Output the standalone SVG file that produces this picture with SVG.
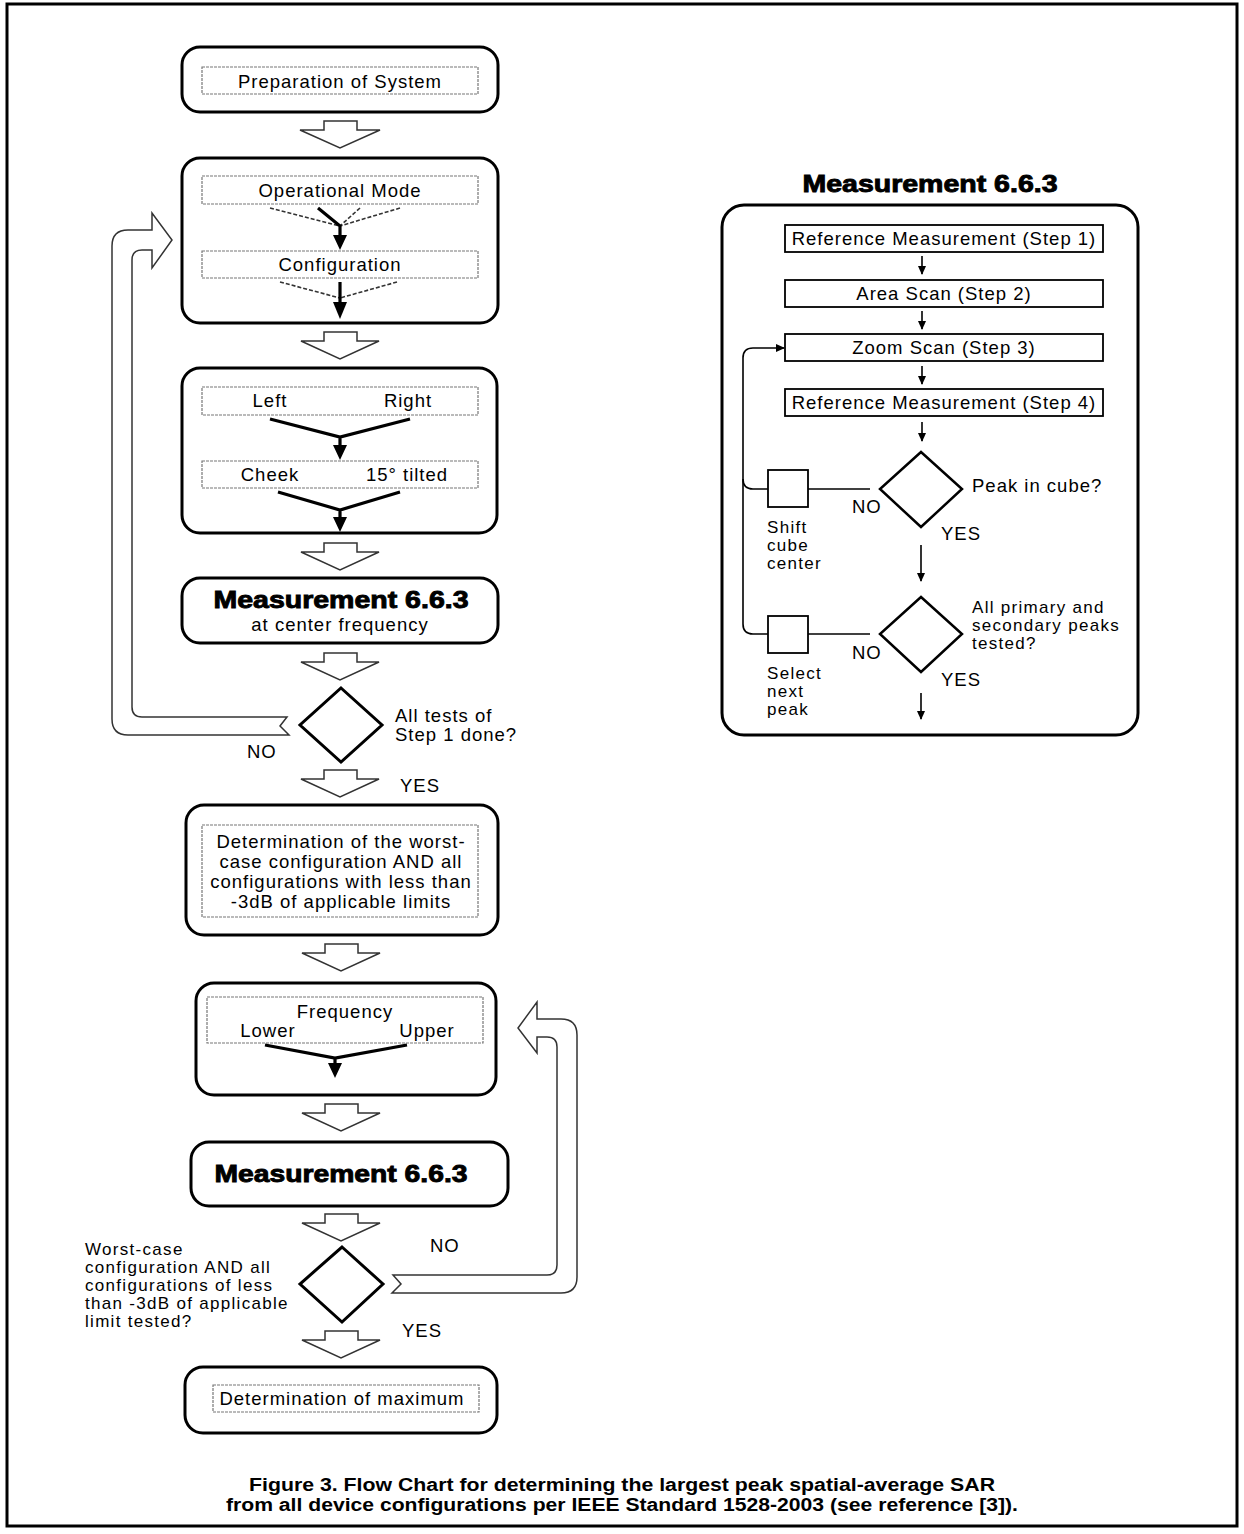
<svg xmlns="http://www.w3.org/2000/svg" width="1244" height="1534" viewBox="0 0 1244 1534">
<style>
.t{font-family:"Liberation Sans",Arial,sans-serif;font-size:18.5px;letter-spacing:1px;fill:#000}
.s{font-size:17px;letter-spacing:1.3px}
.m{text-anchor:middle}
.big{font-family:"Liberation Sans",Arial,sans-serif;font-weight:bold;font-size:24px;fill:#000;stroke:#000;stroke-width:0.9;text-anchor:middle}
.cap{font-family:"Liberation Sans",Arial,sans-serif;font-weight:bold;font-size:18px;fill:#000;text-anchor:middle}
.box{fill:#fff;stroke:#000;stroke-width:3}
.dr{fill:none;stroke:#777;stroke-width:1.2;stroke-dasharray:3 1}
.sr{fill:#fff;stroke:#000;stroke-width:1.8}
.ha{fill:#fff;stroke:#333;stroke-width:1.5;stroke-linejoin:miter}
.thick{fill:none;stroke:#000;stroke-width:3.2}
.dash{fill:none;stroke:#333;stroke-width:1.6;stroke-dasharray:4 2}
.thin{fill:none;stroke:#000;stroke-width:1.6}
.dia{fill:#fff;stroke:#000;stroke-width:3}
.dia2{fill:#fff;stroke:#000;stroke-width:2.5}
</style>
<defs>
<marker id="ah" markerWidth="10" markerHeight="10" refX="8" refY="5" orient="auto" markerUnits="userSpaceOnUse">
<path d="M0,1 L9,5 L0,9 Z" fill="#000"/>
</marker>
</defs>
<rect x="7" y="4" width="1230" height="1522" fill="#fff" stroke="#000" stroke-width="3"/>

<g id="connectors">
<polygon class="ha" points="324,121 357,121 357,130 380,130 340,148 300,130 324,130"/>
<polygon class="ha" points="324,332 357,332 357,341 379,341 340,359 301,341 324,341"/>
<polygon class="ha" points="324,543 357,543 357,552 379,552 340,570 301,552 324,552"/>
<polygon class="ha" points="324,653 357,653 357,662 379,662 340,680 301,662 324,662"/>
<polygon class="ha" points="324,770 357,770 357,779 379,779 340,797 301,779 324,779"/>
<polygon class="ha" points="325,944 358,944 358,953 380,953 341,971 302,953 325,953"/>
<polygon class="ha" points="325,1104 358,1104 358,1113 380,1113 341,1131 302,1113 325,1113"/>
<polygon class="ha" points="325,1214 358,1214 358,1223 380,1223 341,1241 302,1223 325,1223"/>
<polygon class="ha" points="325,1331 358,1331 358,1340 380,1340 341,1358 302,1340 325,1340"/>
<path class="ha" d="M287,717 H142 Q132,717 132,707 V260 Q132,250 142,250 H152 V268 L172,240 L152,213 V230 H128 Q112,230 112,246 V719 Q112,735 128,735 H289 L280,726 Z"/>
<path class="ha" d="M393,1275 H547 Q557,1275 557,1265 V1047 Q557,1037 547,1037 H537 V1053 L518,1028 L537,1002 V1019 H561 Q577,1019 577,1035 V1277 Q577,1293 561,1293 H392 L401,1284 Z"/>
<path class="thin" d="M768,489 H753 Q743,489 743,479"/>
<path class="thin" d="M768,634 H753 Q743,634 743,624 V358 Q743,348 753,348 H784" marker-end="url(#ah)"/>
<line class="thin" x1="808" y1="489" x2="870" y2="489"/>
<line class="thin" x1="808" y1="634" x2="870" y2="634"/>
<line class="thin" x1="922" y1="256" x2="922" y2="274" marker-end="url(#ah)"/>
<line class="thin" x1="922" y1="311" x2="922" y2="329" marker-end="url(#ah)"/>
<line class="thin" x1="922" y1="366" x2="922" y2="384" marker-end="url(#ah)"/>
<line class="thin" x1="922" y1="422" x2="922" y2="441" marker-end="url(#ah)"/>
<line class="thin" x1="921" y1="545" x2="921" y2="581" marker-end="url(#ah)"/>
<line class="thin" x1="921" y1="693" x2="921" y2="719" marker-end="url(#ah)"/>
</g>

<g id="n-prep">
<rect class="box" x="182" y="47" width="316" height="65" rx="18"/>
<rect class="dr" x="202" y="67" width="276" height="27"/>
<text class="t m" x="340" y="88">Preparation of System</text>
</g>

<g id="n-mode">
<rect class="box" x="182" y="158" width="316" height="165" rx="18"/>
<rect class="dr" x="202" y="176" width="276" height="28"/>
<text class="t m" x="340" y="197">Operational Mode</text>
<path class="dash" d="M270,208 L340,226 M400,208 L340,226 M360,208 L340,226"/>
<path class="thick" d="M318,208 L340,226 V237"/>
<polygon points="333,235 347,235 340,250" fill="#000"/>
<rect class="dr" x="202" y="251" width="276" height="27"/>
<text class="t m" x="340" y="271">Configuration</text>
<path class="dash" d="M280,282 L340,298 M397,282 L340,298"/>
<path class="thick" d="M340,282 V304"/>
<polygon points="333,302 347,302 340,319" fill="#000"/>
</g>

<g id="n-side">
<rect class="box" x="182" y="368" width="315" height="165" rx="18"/>
<rect class="dr" x="202" y="387" width="276" height="28"/>
<text class="t m" x="270" y="407">Left</text>
<text class="t m" x="408" y="407">Right</text>
<path class="thick" d="M270,419 L340,437 L410,419 M340,437 V447"/>
<polygon points="333,445 347,445 340,460" fill="#000"/>
<rect class="dr" x="202" y="461" width="276" height="27"/>
<text class="t m" x="270" y="481">Cheek</text>
<text class="t m" x="407" y="481">15° tilted</text>
<path class="thick" d="M278,492 L340,510 L400,492 M340,510 V519"/>
<polygon points="333,517 347,517 340,532" fill="#000"/>
</g>

<g id="n-meas1">
<rect class="box" x="182" y="578" width="316" height="65" rx="18"/>
<text class="big" x="341" y="608" textLength="255" lengthAdjust="spacingAndGlyphs">Measurement 6.6.3</text>
<text class="t m" x="340" y="631">at center frequency</text>
</g>

<g id="n-dec1">
<polygon class="dia" points="341,688 382,725 341,762 300,725"/>
<text class="t" x="395" y="722">All tests of</text>
<text class="t" x="395" y="741">Step 1 done?</text>
<text class="t" x="247" y="758">NO</text>
<text class="t" x="400" y="792">YES</text>
</g>

<g id="n-worst">
<rect class="box" x="186" y="805" width="312" height="130" rx="18"/>
<rect class="dr" x="202" y="825" width="276" height="92"/>
<text class="t m" x="341" y="848">Determination of the worst-</text>
<text class="t m" x="341" y="868">case configuration AND all</text>
<text class="t m" x="341" y="888">configurations with less than</text>
<text class="t m" x="341" y="908">-3dB of applicable limits</text>
</g>

<g id="n-freq">
<rect class="box" x="196" y="983" width="300" height="112" rx="18"/>
<rect class="dr" x="207" y="997" width="276" height="46"/>
<text class="t m" x="345" y="1018">Frequency</text>
<text class="t m" x="268" y="1037">Lower</text>
<text class="t m" x="427" y="1037">Upper</text>
<path class="thick" d="M265,1045 L335,1058 L407,1045 M335,1058 V1065"/>
<polygon points="328,1063 342,1063 335,1078" fill="#000"/>
</g>

<g id="n-meas2">
<rect class="box" x="191" y="1142" width="317" height="64" rx="18"/>
<text class="big" x="341" y="1182" textLength="253" lengthAdjust="spacingAndGlyphs">Measurement 6.6.3</text>
</g>

<g id="n-dec2">
<polygon class="dia" points="342,1247 383,1284 342,1322 300,1284"/>
<text class="t s" x="85" y="1255">Worst-case</text>
<text class="t s" x="85" y="1273">configuration AND all</text>
<text class="t s" x="85" y="1291">configurations of less</text>
<text class="t s" x="85" y="1309">than -3dB of applicable</text>
<text class="t s" x="85" y="1327">limit tested?</text>
<text class="t" x="430" y="1252">NO</text>
<text class="t" x="402" y="1337">YES</text>
</g>

<g id="n-max">
<rect class="box" x="185" y="1367" width="312" height="66" rx="18"/>
<rect class="dr" x="213" y="1385" width="266" height="27"/>
<text class="t m" x="342" y="1405">Determination of maximum</text>
</g>

<g id="n-panel">
<text class="big" x="930" y="192" textLength="255" lengthAdjust="spacingAndGlyphs">Measurement 6.6.3</text>
<rect fill="none" stroke="#000" stroke-width="3" x="722" y="205" width="416" height="530" rx="22"/>
</g>

<g id="n-step1">
<rect class="sr" x="785" y="225" width="318" height="27"/>
<text class="t m" x="944" y="245">Reference Measurement (Step 1)</text>
</g>
<g id="n-step2">
<rect class="sr" x="785" y="280" width="318" height="27"/>
<text class="t m" x="944" y="300">Area Scan (Step 2)</text>
</g>
<g id="n-step3">
<rect class="sr" x="785" y="334" width="318" height="27"/>
<text class="t m" x="944" y="354">Zoom Scan (Step 3)</text>
</g>
<g id="n-step4">
<rect class="sr" x="785" y="389" width="318" height="27"/>
<text class="t m" x="944" y="409">Reference Measurement (Step 4)</text>
</g>

<g id="n-peak">
<polygon class="dia2" points="921,452 962,489 921,527 880,489"/>
<text class="t" x="972" y="492">Peak in cube?</text>
<text class="t" x="852" y="513">NO</text>
<text class="t" x="941" y="540">YES</text>
</g>
<g id="n-shift">
<rect class="sr" x="768" y="470" width="40" height="37"/>
<text class="t s" x="767" y="533">Shift</text>
<text class="t s" x="767" y="551">cube</text>
<text class="t s" x="767" y="569">center</text>
</g>

<g id="n-all">
<polygon class="dia2" points="921,597 962,634 921,672 880,634"/>
<text class="t s" x="972" y="613">All primary and</text>
<text class="t s" x="972" y="631">secondary peaks</text>
<text class="t s" x="972" y="649">tested?</text>
<text class="t" x="852" y="659">NO</text>
<text class="t" x="941" y="686">YES</text>
</g>
<g id="n-select">
<rect class="sr" x="768" y="616" width="40" height="37"/>
<text class="t s" x="767" y="679">Select</text>
<text class="t s" x="767" y="697">next</text>
<text class="t s" x="767" y="715">peak</text>
</g>

<g id="caption">
<text class="cap" x="622" y="1491" textLength="746" lengthAdjust="spacingAndGlyphs">Figure 3.  Flow Chart for determining the largest peak spatial-average SAR</text>
<text class="cap" x="622" y="1511" textLength="792" lengthAdjust="spacingAndGlyphs">from all device configurations per IEEE Standard 1528-2003 (see reference [3]).</text>
</g>
</svg>
